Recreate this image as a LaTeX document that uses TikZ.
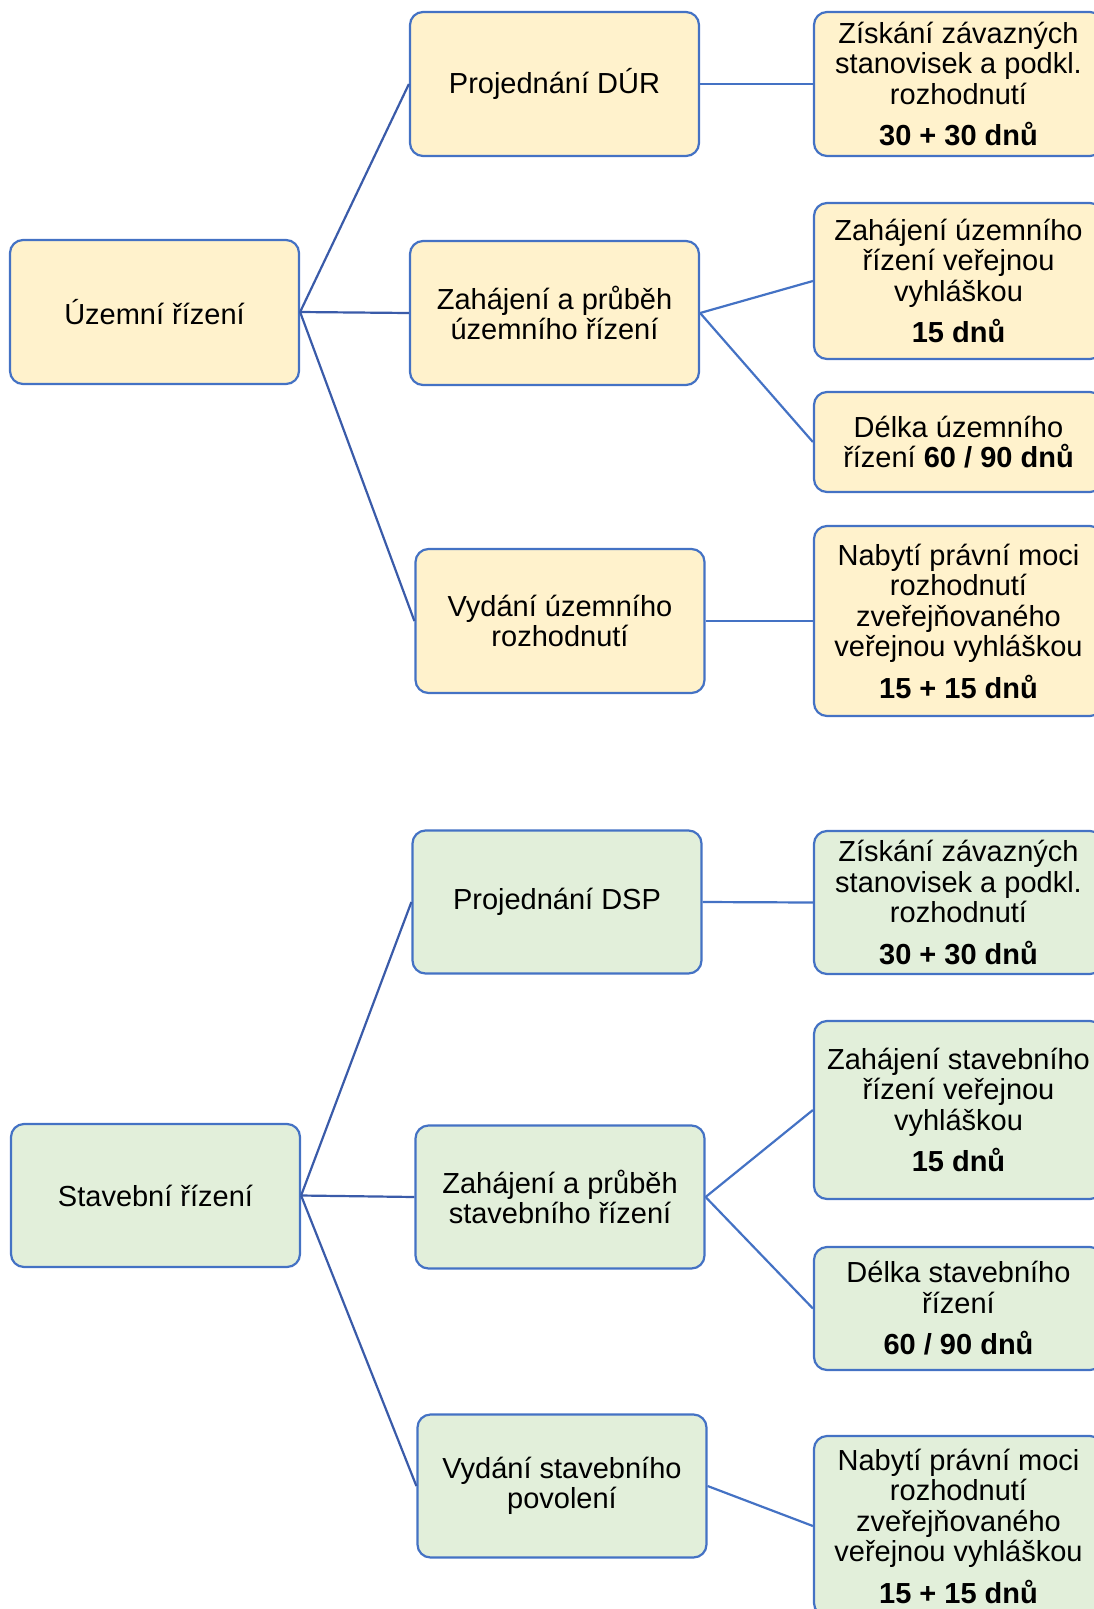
\documentclass[tikz,border=0pt]{standalone}
\usepackage{fontspec}
\setmainfont{Liberation Sans}
\definecolor{bord}{HTML}{4472C4}
\definecolor{conncol}{HTML}{3A5BA9}
\definecolor{yel}{HTML}{FFF2CC}
\definecolor{grn}{HTML}{E2EFDA}
\begin{document}
\begin{tikzpicture}[x=1pt,y=-1pt,
  box/.style={draw=bord, line width=2.2pt, rounded corners=13pt, align=center, inner sep=0pt,
    minimum width=289pt, font=\fontsize{29}{30.5}\selectfont},
  ybox/.style={box, fill=yel},
  gbox/.style={box, fill=grn},
  conn/.style={draw=conncol, line width=2.2pt},
  conntwo/.style={draw=bord, line width=2.2pt}]
\useasboundingbox (0,0) rectangle (1094,1609);
\clip (0,0) rectangle (1094,1609);
% roots
\node[ybox, minimum height=144pt] (uz) at (154.5,312) {Územní řízení};
\node[gbox, minimum height=143pt] (st) at (155.5,1195.5) {Stavební řízení};
% level 1
\node[ybox, minimum height=144pt] (dur) at (554.5,84) {Projednání DÚR};
\node[ybox, minimum height=144pt] (zu) at (554.5,313) {Zahájení a průběh\\územního řízení};
\node[ybox, minimum height=144pt] (vu) at (560,621) {Vydání územního\\rozhodnutí};
\node[gbox, minimum height=143pt] (dsp) at (557,902) {Projednání DSP};
\node[gbox, minimum height=143pt] (zs) at (560,1197) {Zahájení a průběh\\stavebního řízení};
\node[gbox, minimum height=143pt] (vs) at (562,1486) {Vydání stavebního\\povolení};
% level 2
\node[ybox, minimum height=144pt] (r1) at (958.5,84) {Získání závazných\\stanovisek a podkl.\\rozhodnutí\\[11pt]\textbf{30 + 30 dnů}};
\node[ybox, minimum height=156pt] (r2) at (958.5,281) {Zahájení územního\\řízení veřejnou\\vyhláškou\\[11pt]\textbf{15 dnů}};
\node[ybox, minimum height=100pt] (r3) at (958.5,442) {Délka územního\\řízení \textbf{60 / 90 dnů}};
\node[ybox, minimum height=190pt] (r4) at (958.5,621) {Nabytí právní moci\\rozhodnutí\\zveřejňovaného\\veřejnou vyhláškou\\[11pt]\textbf{15 + 15 dnů}};
\node[gbox, minimum height=143pt] (r5) at (958.5,902.5) {Získání závazných\\stanovisek a podkl.\\rozhodnutí\\[11pt]\textbf{30 + 30 dnů}};
\node[gbox, minimum height=178pt] (r6) at (958.5,1110) {Zahájení stavebního\\řízení veřejnou\\vyhláškou\\[11pt]\textbf{15 dnů}};
\node[gbox, minimum height=123pt] (r7) at (958.5,1308.5) {Délka stavebního\\řízení\\[11pt]\textbf{60 / 90 dnů}};
\node[gbox, minimum height=180pt] (r8) at (958.5,1526) {Nabytí právní moci\\rozhodnutí\\zveřejňovaného\\veřejnou vyhláškou\\[11pt]\textbf{15 + 15 dnů}};
% connectors
\draw[conn] (uz.east) -- (dur.west);
\draw[conn] (uz.east) -- (zu.west);
\draw[conn] (uz.east) -- (vu.west);
\draw[conntwo] (dur.east) -- (r1.west);
\draw[conntwo] (zu.east) -- (r2.west);
\draw[conntwo] (zu.east) -- (r3.west);
\draw[conntwo] (vu.east) -- (r4.west);
\draw[conn] (st.east) -- (dsp.west);
\draw[conn] (st.east) -- (zs.west);
\draw[conn] (st.east) -- (vs.west);
\draw[conntwo] (dsp.east) -- (r5.west);
\draw[conntwo] (zs.east) -- (r6.west);
\draw[conntwo] (zs.east) -- (r7.west);
\draw[conntwo] (vs.east) -- (r8.west);
\end{tikzpicture}
\end{document}
